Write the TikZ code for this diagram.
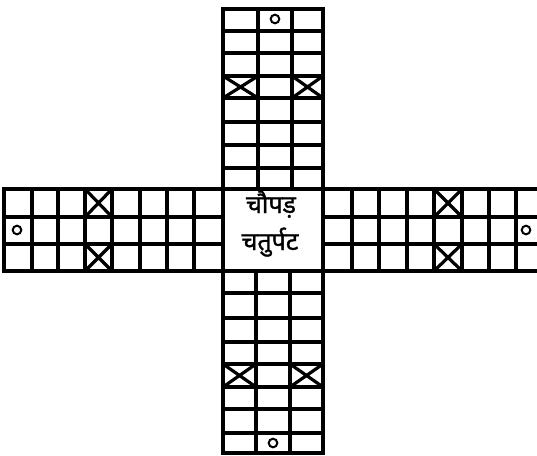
\documentclass[tikz,border=0pt]{standalone}
\usepackage{fontspec}
\newfontfamily\devfont[Script=Devanagari,FakeBold=1.2]{Noto Sans}
\begin{document}
\begin{tikzpicture}[x=1pt,y=-1pt,
  gridline/.style={line width=3.2pt},
  rim/.style={line width=3.6pt},
  xmark/.style={line width=3.2pt},
  spot/.style={line width=2pt},
  centretext/.style={font=\devfont\fontsize{25}{28}\selectfont, inner sep=0pt, anchor=base}]
\useasboundingbox (0,0) rectangle (537,455);
\clip (0,0) rectangle (537,455);
% top arm
\foreach \y in {31,53,76,98,122,145,168} \draw[gridline] (223,\y) -- (323,\y);
\foreach \x in {258,292} \draw[gridline] (\x,9) -- (\x,189);
\draw[rim] (223,189) rectangle (323,9);
% bottom arm
\foreach \y in {293,318,342,364,387,409,433} \draw[gridline] (223,\y) -- (323,\y);
\foreach \x in {256,290} \draw[gridline] (\x,271) -- (\x,453);
\draw[rim] (223,271) rectangle (323,453);
% left arm
\foreach \x in {32,58,85,112,140,167,194} \draw[gridline] (\x,189) -- (\x,271);
\foreach \y in {217,244} \draw[gridline] (4,\y) -- (223,\y);
\draw[rim] (4,189) rectangle (223,271);
% right arm
\foreach \x in {352,379,407,434,462,489,516} \draw[gridline] (\x,189) -- (\x,271);
\foreach \y in {217,244} \draw[gridline] (323,\y) -- (545,\y);
\draw[rim] (323,189) rectangle (545,271);
% centre
\draw[rim] (223,189) rectangle (323,271);
% crosses
\foreach \a/\b/\c/\d in {223/76/258/98, 292/76/323/98, 223/364/256/387, 290/364/323/387,
  85/189/112/217, 85/244/112/271, 434/189/462/217, 434/244/462/271}
  \draw[xmark] (\a,\b) -- (\c,\d) (\a,\d) -- (\c,\b);
% spots
\foreach \p in {(275,19),(273,443),(17,230),(526,230)} \draw[spot] \p circle (4.3);
% text
\node[centretext] (w1) at (271,213) {चौपड़};
\node[centretext] (w2) at (270,250) {चतुर्पट};
\end{tikzpicture}
\end{document}
